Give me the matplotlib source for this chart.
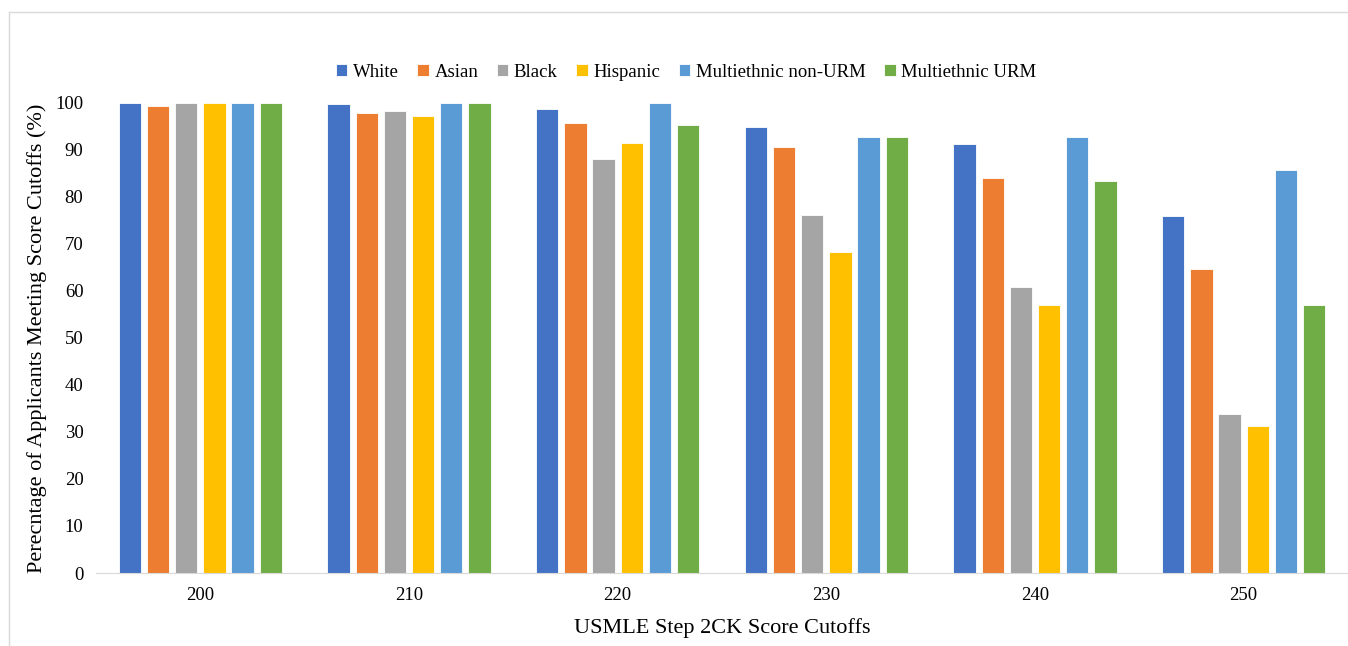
import matplotlib.pyplot as plt
from matplotlib.lines import Line2D
import numpy as np

plt.rcParams['font.family'] = ['Liberation Serif', 'DejaVu Serif']

cutoffs = ["200", "210", "220", "230", "240", "250"]
groups = ["White", "Asian", "Black", "Hispanic", "Multiethnic non-URM", "Multiethnic URM"]

white = [100, 99.8, 98.7, 94.9, 91.2, 75.9]
asian = [99.4, 97.8, 95.7, 90.6, 84.1, 64.7]
black = [100, 98.3, 88.1, 76.2, 60.9, 33.8]
hispanic = [100, 97.2, 91.4, 68.4, 57.0, 31.3]
multi_non_urm = [100, 100, 100, 92.8, 92.8, 85.7]
multi_urm = [100, 100, 95.3, 92.8, 83.3, 57.0]

series = [white, asian, black, hispanic, multi_non_urm, multi_urm]
colors = ["#4472C4", "#ED7D31", "#A5A5A5", "#FFC000", "#5B9BD5", "#70AD47"]

fig = plt.figure(figsize=(13.48, 6.46), dpi=100)
ax = fig.add_axes([0.0712, 0.113, 0.9288, 0.7276])

x = np.arange(len(cutoffs))
pitch = 0.135
width = 0.107
for i, (vals, name) in enumerate(zip(series, groups)):
    ax.bar(x + (i - 2.5) * pitch, vals, width, color=colors[i], label=name,
           edgecolor="white", linewidth=0.6, zorder=2)

ax.set_xlim(-0.5, len(cutoffs) - 0.5)
ax.set_ylim(0, 100)
ax.set_yticks(range(0, 101, 10))
ax.set_xticks(x)
ax.set_xticklabels(cutoffs)
ax.tick_params(axis="both", length=0, labelsize=13.5)
ax.tick_params(axis="x", pad=10)
ax.tick_params(axis="y", pad=9)

for s in ["top", "right", "left"]:
    ax.spines[s].set_visible(False)
ax.spines["bottom"].set_color("#D9D9D9")

ax.set_xlabel("USMLE Step 2CK Score Cutoffs", fontsize=16, labelpad=10)
ax.set_ylabel("Perecntage of Applicants Meeting Score Cutoffs (%)", fontsize=16, labelpad=6)

fig.legend(loc="center", bbox_to_anchor=(0.509, 0.888), ncol=6, frameon=False,
           fontsize=13.5, handlelength=0.6, handleheight=0.6, handletextpad=0.3,
           columnspacing=1.0)

# outer chart border (left and top edges visible)
fig.add_artist(Line2D([0.0067, 0.0067], [0, 0.9814], color="#D9D9D9", lw=1, transform=fig.transFigure))
fig.add_artist(Line2D([0.0067, 1.0], [0.9814, 0.9814], color="#D9D9D9", lw=1, transform=fig.transFigure))

fig.savefig("out.png", dpi=100)
